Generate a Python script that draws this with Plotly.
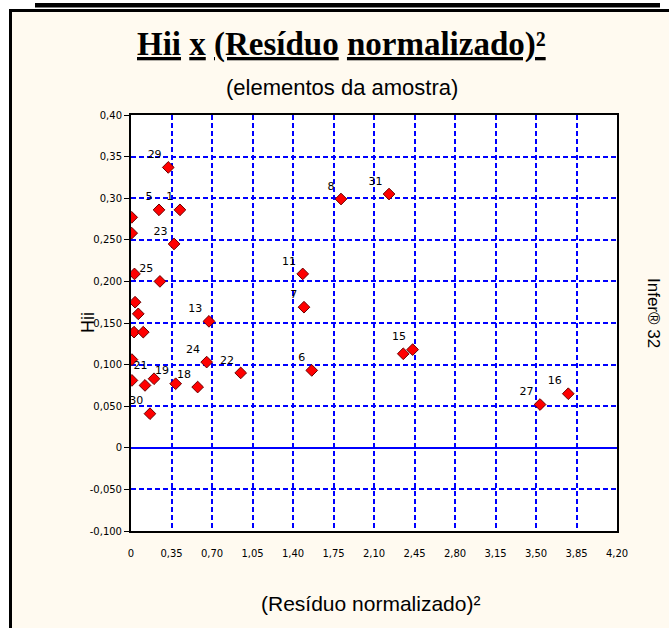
import plotly.graph_objects as go

# ---- data ----
res2 = [0.423, 0.242, 0.322, 0.006, 0.006, 0.372, 0.030, 0.250, 1.484, 0.035,
        0.063, 0.026, 0.106, 0.674, 1.495, 0.654, 0.948, 1.562, 0.576, 0.386,
        0.199, 0.121, 0.008, 0.008, 0.164, 2.353, 2.434, 3.535, 3.779, 1.815,
        2.230]
hii = [0.286, 0.286, 0.337, 0.277, 0.258, 0.245, 0.209, 0.200, 0.209, 0.175,
       0.161, 0.139, 0.139, 0.152, 0.169, 0.103, 0.090, 0.093, 0.073, 0.077,
       0.083, 0.075, 0.081, 0.106, 0.041, 0.113, 0.118, 0.052, 0.065, 0.299,
       0.305]
point_labels = ["1", "5", "29", "", "", "23", "", "25", "11", "",
                "", "", "", "13", "7", "24", "22", "6", "18", "19",
                "21", "", "", "", "30", "", "15", "27", "16", "8",
                "31"]

x_ticks = [0, 0.35, 0.70, 1.05, 1.40, 1.75, 2.10, 2.45, 2.80, 3.15, 3.50, 3.85, 4.20]
x_ticktext = ["0", "0,35", "0,70", "1,05", "1,40", "1,75", "2,10", "2,45", "2,80",
              "3,15", "3,50", "3,85", "4,20"]
y_ticks = [0.40, 0.35, 0.30, 0.25, 0.20, 0.15, 0.10, 0.05, 0, -0.05, -0.10]
y_ticktext = ["0,40", "0,35", "0,30", "0,250", "0,200", "0,150", "0,100", "0,050",
              "0", "-0,050", "-0,100"]

title_text = "<b><u>Hii</u> <u>x</u> <u>(Resíduo</u> <u>normalizado)²</u></b>"
subtitle_text = "(elementos da amostra)"
x_title = "(Resíduo normalizado)²"
y_title = "Hii"
side_text = "Infer® 32"

# ---- layout geometry (pixels) ----
W, H = 669, 628
L, R, T, B = 131, 617, 115, 531


def px(x):
    return (x - L) / (R - L)


def py(y):
    return (B - y) / (B - T)


CREAM = "#FFFAF0"
BLUE = "#0000FF"
tick_font = dict(family="DejaVu Sans, Liberation Sans, Arial", size=10, color="black")

fig = go.Figure()
fig.add_trace(go.Scatter(
    x=res2, y=hii, mode="markers+text", text=point_labels,
    textposition="top left",
    textfont=dict(family="DejaVu Sans, Liberation Sans, Arial", size=11, color="black"),
    marker=dict(symbol="diamond", size=9, color="#FF0000",
                line=dict(color="#6a0000", width=1)),
    cliponaxis=True, showlegend=False, hoverinfo="x+y+text",
))

fig.update_xaxes(
    range=[0, 4.2], tickvals=x_ticks, ticktext=x_ticktext, tickfont=tick_font,
    showgrid=True, gridcolor=BLUE, gridwidth=1.5, griddash="5px,3px",
    zeroline=False, showline=True, linecolor="black", linewidth=2, mirror=True,
    ticks="outside", ticklen=12, tickcolor="rgba(0,0,0,0)",
)
fig.update_yaxes(
    range=[-0.10, 0.40], tickvals=y_ticks, ticktext=y_ticktext, tickfont=tick_font,
    showgrid=True, gridcolor=BLUE, gridwidth=1.5, griddash="5px,3px",
    zeroline=True, zerolinecolor=BLUE, zerolinewidth=2,
    showline=True, linecolor="black", linewidth=2, mirror=True,
    ticks="outside", ticklen=5, tickcolor="black", tickwidth=1,
)

shapes = [
    # white margins outside the frame
    dict(type="rect", xref="paper", yref="paper", x0=px(0), x1=px(9), y0=py(H), y1=py(0),
         fillcolor="white", line=dict(width=0), layer="above"),
    dict(type="rect", xref="paper", yref="paper", x0=px(0), x1=px(W), y0=py(9), y1=py(0),
         fillcolor="white", line=dict(width=0), layer="above"),
    # thick bar at the top
    dict(type="rect", xref="paper", yref="paper", x0=px(35), x1=px(660), y0=py(7.5), y1=py(3),
         fillcolor="black", line=dict(width=0), layer="above"),
    # frame lines
    dict(type="line", xref="paper", yref="paper", x0=px(10.5), x1=px(10.5), y0=py(9), y1=py(H),
         line=dict(color="black", width=3), layer="above"),
    dict(type="line", xref="paper", yref="paper", x0=px(9), x1=px(W), y0=py(10.5), y1=py(10.5),
         line=dict(color="black", width=3), layer="above"),
]

annotations = [
    dict(text=title_text, x=px(341), y=py(44), xref="paper", yref="paper",
         showarrow=False, xanchor="center", yanchor="middle",
         font=dict(family="Liberation Serif, Times New Roman, serif", size=33, color="black")),
    dict(text=subtitle_text, x=px(342), y=py(88), xref="paper", yref="paper",
         showarrow=False, xanchor="center", yanchor="middle",
         font=dict(family="Liberation Sans, Arial", size=22, color="black")),
    dict(text=x_title, x=px(370), y=py(603), xref="paper", yref="paper",
         showarrow=False, xanchor="center", yanchor="middle",
         font=dict(family="Liberation Sans, Arial", size=21, color="black")),
    dict(text=y_title, x=px(88), y=py(323), xref="paper", yref="paper",
         showarrow=False, xanchor="center", yanchor="middle", textangle=-90,
         font=dict(family="Liberation Sans, Arial", size=18, color="black")),
    dict(text=side_text, x=px(654), y=py(313), xref="paper", yref="paper",
         showarrow=False, xanchor="center", yanchor="middle", textangle=90,
         font=dict(family="Liberation Sans, Arial", size=17, color="black")),
]

fig.update_layout(
    width=W, height=H, autosize=False,
    margin=dict(l=L, r=W - R, t=T, b=H - B, pad=0),
    paper_bgcolor=CREAM, plot_bgcolor="white",
    shapes=shapes, annotations=annotations, showlegend=False,
)

# place the figure at the page's top-left corner (no default body margin)
fig.write_html("out.html", config={"displayModeBar": False},
               post_script="document.body.style.margin='0px';")
